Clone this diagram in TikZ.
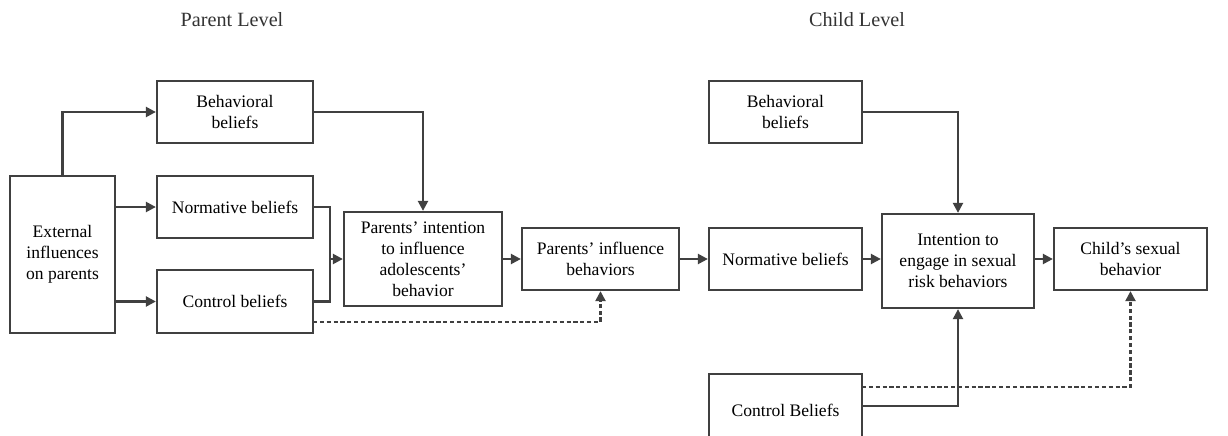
\documentclass[tikz,border=0pt]{standalone}
\usepackage{fontspec}
\setmainfont{Liberation Serif}
\usetikzlibrary{arrows.meta}
\colorlet{boxline}{black!75}

\begin{document}
\begin{tikzpicture}[x=0.02cm, y=-0.02cm,
    stagebox/.style={draw=boxline, line width=1.3pt, fill=white, align=center,
      inner sep=0pt, font=\fontsize{10}{12}\selectfont},
    link/.style={draw=boxline, line width=1.3pt, -{Triangle[length=2mm,width=2mm]}},
    dashlink/.style={link, dash pattern=on 2.4pt off 1.5pt},
    levelhead/.style={font=\fontsize{11.5}{13}\selectfont, text=black!80}]
  \clip (0,0) rectangle (1228,436);

  % level headings
  \node[levelhead] (parenthead) at (232,20) {Parent Level};
  \node[levelhead] (childhead) at (857,20) {Child Level};

  % parent level
  \node[stagebox, minimum width=2.1cm, minimum height=3.14cm] (ext) at (62.5,254.5)
    {External\\influences\\on parents};
  \node[stagebox, minimum width=3.12cm, minimum height=1.24cm] (pbeh) at (235,112)
    {Behavioral\\beliefs};
  \node[stagebox, minimum width=3.12cm, minimum height=1.24cm] (pnorm) at (235,207)
    {Normative beliefs};
  \node[stagebox, minimum width=3.12cm, minimum height=1.26cm] (pctrl) at (235,301.5)
    {Control beliefs};
  \node[stagebox, minimum width=3.16cm, minimum height=1.88cm] (pint) at (423,259)
    {Parents' intention\\to influence\\adolescents'\\behavior};
  \node[stagebox, minimum width=3.14cm, minimum height=1.24cm] (pinf) at (600.5,259)
    {Parents' influence\\behaviors};

  % child level
  \node[stagebox, minimum width=3.06cm, minimum height=1.24cm] (cbeh) at (785.5,112)
    {Behavioral\\beliefs};
  \node[stagebox, minimum width=3.06cm, minimum height=1.24cm] (cnorm) at (785.5,259)
    {Normative beliefs};
  \node[stagebox, minimum width=3.04cm, minimum height=1.88cm] (cint) at (958,261)
    {Intention to\\engage in sexual\\risk behaviors};
  \node[stagebox, minimum width=3.06cm, minimum height=1.24cm] (cout) at (1130.5,259)
    {Child's sexual\\behavior};
  \node[stagebox, minimum width=3.06cm, minimum height=1.44cm] (cctrl) at (785.5,410)
    {Control Beliefs};

  % parent connectors
  \coordinate (pjoin) at (330,259);
  \draw[link] (ext.north) |- (pbeh.west);
  \draw[link] (ext.east |- pnorm.west) -- (pnorm.west);
  \draw[link] (ext.east |- pctrl.west) -- (pctrl.west);
  \draw[draw=boxline, line width=1.3pt] (pnorm.east) -| (pjoin);
  \draw[draw=boxline, line width=1.3pt] (pctrl.east) -| (pjoin);
  \draw[link] (pjoin) -- (pint.west);
  \draw[link] (pbeh.east) -| (pint.north);
  \draw[link] (pint.east) -- (pinf.west);
  \coordinate (pdash) at (313,322);
  \draw[dashlink] (pdash) -| (pinf.south);

  % child connectors
  \draw[link] (pinf.east) -- (cnorm.west);
  \draw[link] (cnorm.east) -- (cnorm.east -| cint.west);
  \draw[link] (cout.west -| cint.east) -- (cout.west);
  \draw[link] (cbeh.east) -| (cint.north);
  \coordinate (csolid) at (862,406);
  \coordinate (cdash) at (862,387);
  \draw[link] (csolid) -| (cint.south);
  \draw[dashlink] (cdash) -| (cout.south);
\end{tikzpicture}
\end{document}
